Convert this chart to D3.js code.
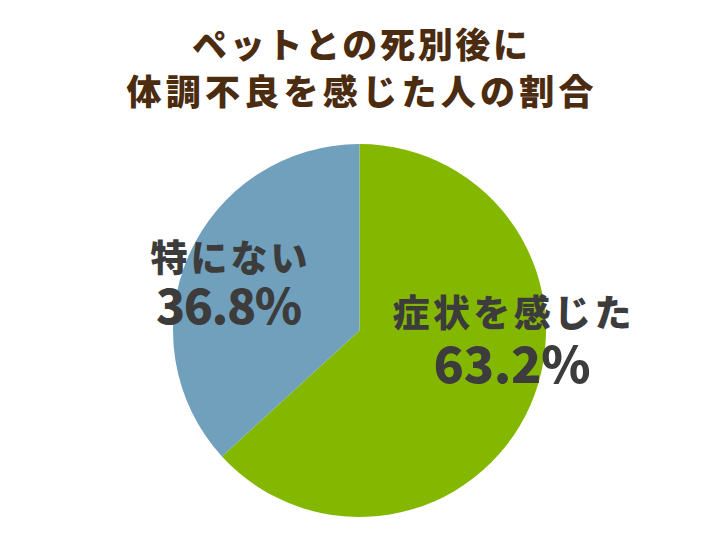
<!DOCTYPE html>
<html>
<head>
<meta charset="utf-8">
<script src="https://cdn.jsdelivr.net/npm/d3@7"></script>
<style>
  body { margin: 0; background: #fff; }
  svg { display: block; font-family: "Noto Sans CJK JP", "Noto Sans", sans-serif; font-weight: 900; }
</style>
</head>
<body>
<div class="chart"></div>
<script>
// data
var categories = ['症状を感じた', '特にない']
  , values = [63.2, 36.8]
  , valueLabels = ['63.2%', '36.8%']
  , colors = ['#84b800', '#70a0bc']
  , titleLines = ['ペットとの死別後に', '体調不良を感じた人の割合'];

var w = 726
  , h = 545
  , cx = 359.5
  , cy = 330.5
  , r = 186.5;

var svg = d3.select('.chart')
            .append('svg')
            .attr('width', w)
            .attr('height', h);

// title
var titleY = [42, 89]
  , titleW = [336, 467];

svg.selectAll('text.title')
    .data(titleLines)
    .enter()
    .append('text')
    .attr('class', 'title')
    .attr('x', 360)
    .attr('y', function (d, i) { return titleY[i]; })
    .attr('text-anchor', 'middle')
    .attr('dominant-baseline', 'central')
    .attr('font-size', 35)
    .attr('textLength', function (d, i) { return titleW[i]; })
    .attr('lengthAdjust', 'spacing')
    .attr('fill', '#4b2c10')
    .text(function (d) { return d; });

// pie
var pie = d3.pie().sort(null).startAngle(0).endAngle(2 * Math.PI);
var arc = d3.arc().innerRadius(0).outerRadius(r);

var g = svg.append('g').attr('transform', 'translate(' + cx + ',' + cy + ')');

g.selectAll('path')
    .data(pie(values))
    .enter()
    .append('path')
    .attr('d', arc)
    .attr('fill', function (d, i) { return colors[i]; });

// labels (category line + value line), positions per slice
var labelPos = [
      { x: 512, y1: 311, y2: 361, w1: 239, w2: 157, f1: 37, f2: 50 }
    , { x: 229, y1: 256, y2: 303, w1: 157, w2: 146, f1: 37, f2: 48 }
  ];

categories.forEach(function (c, i) {
  var p = labelPos[i];
  svg.append('text')
      .attr('x', p.x)
      .attr('y', p.y1)
      .attr('text-anchor', 'middle')
      .attr('dominant-baseline', 'central')
      .attr('font-size', p.f1)
      .attr('textLength', p.w1)
      .attr('lengthAdjust', 'spacing')
      .attr('fill', '#3c3c3c')
      .text(c);

  svg.append('text')
      .attr('x', p.x)
      .attr('y', p.y2)
      .attr('text-anchor', 'middle')
      .attr('dominant-baseline', 'central')
      .attr('font-size', p.f2)
      .attr('textLength', p.w2)
      .attr('lengthAdjust', 'spacing')
      .attr('fill', '#3c3c3c')
      .text(valueLabels[i]);
});
</script>
</body>
</html>
